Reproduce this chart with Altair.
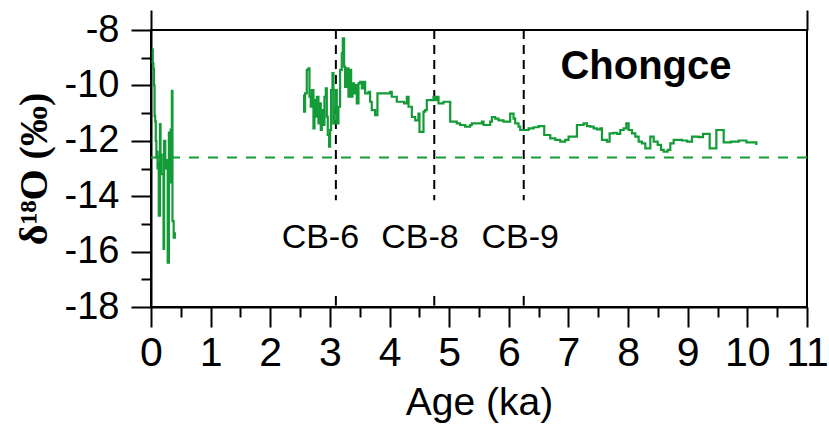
import altair as alt
import pandas as pd

# ---- data ----
seg1_age = [0.02, 0.03, 0.04, 0.05, 0.06, 0.07, 0.08, 0.09, 0.10, 0.11, 0.12, 0.13, 0.15, 0.16,
            0.18, 0.21, 0.22, 0.24, 0.26, 0.28, 0.30, 0.32, 0.33, 0.35, 0.36, 0.38, 0.40]
seg1_d18o = [-8.7, -9.2, -9.4, -10.0, -11.1, -11.3, -12.0, -12.6, -12.4, -13.0, -12.8, -14.7, -11.4, -12.5,
             -13.2, -15.9, -12.0, -13.0, -12.7, -16.4, -11.7, -13.5, -11.6, -10.2, -14.9, -15.5, -15.3]

seg2_age = [2.556, 2.567, 2.584, 2.612, 2.640, 2.657, 2.679, 2.696, 2.724, 2.741, 2.763, 2.780, 2.808,
            2.824, 2.847, 2.864, 2.891, 2.908, 2.931, 2.948, 2.964, 2.987, 3.003, 3.020, 3.043, 3.059,
            3.076, 3.098, 3.115, 3.143, 3.171, 3.199, 3.216, 3.238, 3.255, 3.283, 3.311, 3.339, 3.356,
            3.378, 3.406, 3.434, 3.451, 3.479, 3.507, 3.535, 3.563, 3.591, 3.647, 3.674, 3.702, 3.758,
            3.797, 4.010, 4.037, 4.121, 4.178, 4.245, 4.290, 4.318, 4.374, 4.430, 4.485, 4.502, 4.569,
            4.597, 4.625, 4.737, 4.765, 4.793, 4.821, 4.905, 5.017, 5.128, 5.184, 5.268, 5.352, 5.380,
            5.548, 5.576, 5.688, 5.716, 5.772, 5.828, 5.911, 6.023, 6.079, 6.107, 6.163, 6.191, 6.331,
            6.415, 6.499, 6.594, 6.695, 6.779, 6.862, 6.946, 7.002, 7.075, 7.142, 7.254, 7.310, 7.366,
            7.422, 7.478, 7.534, 7.562, 7.645, 7.690, 7.757, 7.813, 7.869, 7.925, 7.970, 8.009, 8.065,
            8.121, 8.177, 8.233, 8.289, 8.373, 8.429, 8.496, 8.552, 8.596, 8.663, 8.708, 8.764, 8.904,
            8.988, 9.072, 9.183, 9.256, 9.368, 9.480, 9.603, 9.726, 9.855, 9.984, 10.151]
seg2_d18o = [-10.35, -10.95, -10.29, -9.44, -9.38, -10.41, -10.77, -10.17, -11.55, -10.53, -11.13, -10.41,
             -11.37, -10.65, -11.61, -10.89, -11.43, -10.41, -10.11, -11.13, -11.79, -12.21, -11.61, -10.17,
             -9.56, -11.37, -10.89, -10.17, -11.37, -10.77, -9.44, -8.84, -8.30, -9.32, -10.05, -9.38,
             -10.41, -9.44, -10.41, -9.93, -10.29, -9.99, -10.65, -9.93, -9.87, -10.11, -9.87, -10.29,
             -10.23, -10.59, -10.89, -11.07, -10.29, -10.23, -10.41, -10.59, -10.59, -10.65, -10.41,
             -10.77, -11.14, -11.26, -11.02, -11.68, -10.95, -10.89, -10.53, -10.41, -10.53, -10.41,
             -10.65, -10.59, -11.31, -11.37, -11.43, -11.49, -11.43, -11.37, -11.31, -11.43, -11.31,
             -11.14, -11.20, -11.26, -11.31, -11.02, -11.20, -11.37, -11.49, -11.61, -11.55, -11.51,
             -11.47, -11.79, -11.91, -11.97, -12.03, -11.97, -11.85, -11.85, -11.43, -11.37, -11.47,
             -11.49, -11.55, -11.59, -11.55, -11.97, -12.03, -11.73, -11.71, -11.75, -11.61, -11.55,
             -11.37, -11.61, -11.73, -11.85, -12.03, -12.09, -12.27, -11.85, -12.03, -12.15, -12.33,
             -12.39, -12.33, -12.09, -11.97, -11.99, -12.03, -11.85, -11.87, -11.75, -12.27, -11.61,
             -12.06, -12.03, -11.99, -12.06, -12.15]

mean_level = [-12.6]
boundary_age = [3.1, 4.75, 6.25]
boundary_label = ["CB-6", "CB-8", "CB-9"]
label_age = [2.84, 4.51, 6.19]
label_d18o = [-15.5, -15.5, -15.5]
boundary_top = [-8.0, -8.0, -8.0]
boundary_bottom = [-14.15, -14.15, -14.15]
stub_top = [-17.6, -17.6, -17.6]
stub_bottom = [-17.95, -17.95, -17.95]
site_name = ["Chongce"]
site_age = [8.3]
site_d18o = [-9.35]

x_major = list(range(0, 12))
x_minor = [i + 0.5 for i in range(0, 11)]
y_major = [-8, -10, -12, -14, -16, -18]
y_minor = [-9, -11, -13, -15, -17]

GREEN = "#129b36"
FONT = "Liberation Sans"

series = pd.DataFrame({
    "age": seg1_age + seg2_age,
    "d18o": seg1_d18o + seg2_d18o,
    "seg": ["a"] * len(seg1_age) + ["b"] * len(seg2_age),
})
bounds = pd.DataFrame({"age": boundary_age, "top": boundary_top, "bot": boundary_bottom,
                       "stop": stub_top, "sbot": stub_bottom})
labels = pd.DataFrame({"age": label_age, "d18o": label_d18o, "text": boundary_label})
site = pd.DataFrame({"age": site_age, "d18o": site_d18o, "text": site_name})
mean_df = pd.DataFrame({"d18o": mean_level})

xs = alt.Scale(domain=[0, 11], nice=False, zero=False)
ys = alt.Scale(domain=[-18, -8], nice=False, zero=False)

x_axis = alt.Axis(values=x_major, tickSize=20, tickWidth=2, tickColor="black", domainWidth=2,
                  domainColor="black", labelFont=FONT, labelFontSize=41, labelColor="black",
                  labelPadding=6, labelFlush=False, grid=False, title="Age (ka)", titleFont=FONT,
                  titleFontSize=39, titleFontWeight="normal", titleColor="black", titlePadding=10)
y_axis = alt.Axis(values=y_major, tickSize=20, tickWidth=2, tickColor="black", domainWidth=2,
                  domainColor="black", labelFont=FONT, labelFontSize=38, labelColor="black",
                  labelPadding=12, labelFlush=False, grid=False,
                  labelExpr="replace(datum.label, '\u2212', '-')",
                  title="δ¹⁸O (‰)",
                  titleFont="Liberation Serif", titleFontSize=40, titleFontWeight="bold",
                  titleColor="black", titlePadding=10)
x_minor_axis = alt.Axis(orient="bottom", values=x_minor, tickSize=10, tickWidth=2, tickColor="black",
                        domain=False, labels=False, grid=False, title="")
y_minor_axis = alt.Axis(orient="left", values=y_minor, tickSize=10, tickWidth=2, tickColor="black",
                        domain=False, labels=False, grid=False, title="")
x_top_axis = alt.Axis(orient="top", values=[0, 11], tickSize=20, tickWidth=2, tickColor="black",
                      domain=False, labels=False, grid=False, title="")

line = alt.Chart(series).mark_line(interpolate="step-after", color=GREEN, strokeWidth=2.2).encode(
    x=alt.X("age:Q", scale=xs, axis=x_axis),
    y=alt.Y("d18o:Q", scale=ys, axis=y_axis),
    detail="seg:N",
)
minor = alt.Chart(series).mark_point(opacity=0).encode(
    x=alt.X("age:Q", scale=xs, axis=x_minor_axis),
    y=alt.Y("d18o:Q", scale=ys, axis=y_minor_axis),
)
top = alt.Chart(series).mark_point(opacity=0).encode(
    x=alt.X("age:Q", scale=xs, axis=x_top_axis),
    y=alt.Y("d18o:Q", scale=ys, axis=None),
)
mean_rule = alt.Chart(mean_df).mark_rule(color=GREEN, strokeWidth=2, strokeDash=[10, 9]).encode(
    y=alt.Y("d18o:Q", scale=ys, axis=None),
)
vrules = alt.Chart(bounds).mark_rule(color="black", strokeWidth=2, strokeDash=[9, 6]).encode(
    x=alt.X("age:Q", scale=xs, axis=None),
    y=alt.Y("top:Q", scale=ys, axis=None),
    y2="bot:Q",
)
stubs = alt.Chart(bounds).mark_rule(color="black", strokeWidth=2).encode(
    x=alt.X("age:Q", scale=xs, axis=None),
    y=alt.Y("stop:Q", scale=ys, axis=None),
    y2="sbot:Q",
)
cb_text = alt.Chart(labels).mark_text(font=FONT, fontSize=34, color="black").encode(
    x=alt.X("age:Q", scale=xs, axis=None),
    y=alt.Y("d18o:Q", scale=ys, axis=None),
    text="text:N",
)
site_text = alt.Chart(site).mark_text(font=FONT, fontSize=40, fontWeight="bold", color="black").encode(
    x=alt.X("age:Q", scale=xs, axis=None),
    y=alt.Y("d18o:Q", scale=ys, axis=None),
    text="text:N",
)

chart = alt.layer(mean_rule, vrules, stubs, line, minor, top, cb_text, site_text).resolve_axis(
    x="independent", y="independent"
).properties(
    width=656, height=277,
    background="white",
    autosize=alt.AutoSizeParams(type="none"),
    padding={"left": 151, "top": 30, "right": 22, "bottom": 122},
).configure_view(stroke="black", strokeWidth=2)

chart.save("out.html", embed_options={"renderer": "svg", "actions": False})
